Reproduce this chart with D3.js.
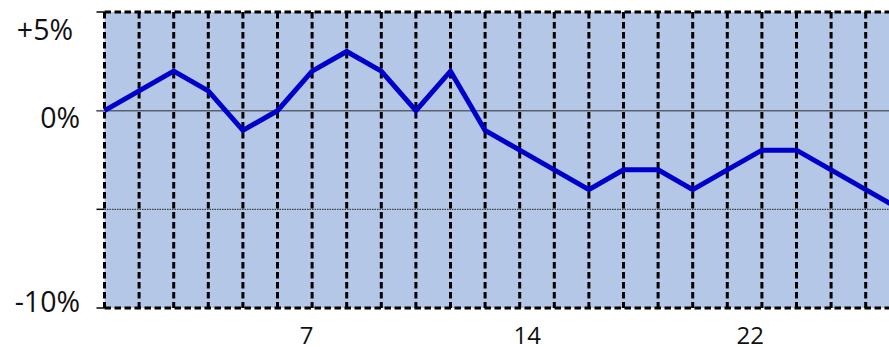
<!DOCTYPE html>
<html><head><meta charset="utf-8">
<script src="https://cdn.jsdelivr.net/npm/d3@7"></script>
<style>html,body{margin:0;padding:0;background:#fff;overflow:hidden}</style>
</head><body>
<svg id="c" width="889" height="347"></svg>
<script>
// Data
const categories = d3.range(1, 25);              // 24 points
const values = [0, 1, 2, 1, -1, 0, 2, 3, 2, 0, 2, -1, -2, -3, -4, -3, -3, -4, -3, -2, -2, -3, -4, -5];
const yTicks = [5, 0, -5, -10];
const yTickLabels = ["+5%", "0%", "", "-10%"];
const xTickLabels = ["7", "14", "22"];
const xTickPos = [6.84, 13.22, 19.66];          // category positions of the labels

(function () {
const svg = d3.select("#c");
const W = 889, H = 347;
const m = {left: 104.5, top: 12, bottom: 39};
const step = 34.6;
const plotRight = m.left + step * (categories.length - 1);

const x = d3.scaleLinear().domain([1, categories.length]).range([m.left, plotRight]);
const y = d3.scaleLinear().domain([-10, 5]).range([H - m.bottom, m.top]);

const yTop = y(5), yBot = y(-10);

// background
svg.append("rect").attr("x", m.left).attr("y", yTop)
  .attr("width", plotRight - m.left + 20).attr("height", yBot - yTop)
  .attr("fill", "#B4C7E7");

// 0% line
svg.append("line").attr("x1", m.left - 8).attr("x2", W)
  .attr("y1", y(0)).attr("y2", y(0))
  .attr("stroke", "#58606e").attr("stroke-width", 1.5);
// -5% dotted line
svg.append("line").attr("x1", m.left).attr("x2", W)
  .attr("y1", y(-5)).attr("y2", y(-5))
  .attr("stroke", "#222").attr("stroke-width", 1).attr("stroke-dasharray", "1.5,1");

// y ticks
svg.selectAll(".yt").data(yTicks).join("line")
  .attr("x1", m.left - 8).attr("x2", m.left)
  .attr("y1", d => y(d)).attr("y2", d => y(d))
  .attr("stroke", d => d === 0 ? "#58606e" : "#000").attr("stroke-width", 1.5);

// vertical dashed gridlines
svg.selectAll(".vg").data(categories).join("line")
  .attr("x1", d => x(d)).attr("x2", d => x(d))
  .attr("y1", yTop).attr("y2", yBot)
  .attr("stroke", "#000").attr("stroke-width", 3).attr("stroke-dasharray", "6.5,3.5");

// top and bottom dashed borders
[yTop, yBot].forEach(yy => {
  svg.append("line").attr("x1", m.left).attr("x2", W + 10)
    .attr("y1", yy).attr("y2", yy)
    .attr("stroke", "#000").attr("stroke-width", 3).attr("stroke-dasharray", "6.5,3.5");
});

// series line
const line = d3.line().x((d, i) => x(categories[i])).y(d => y(d));
svg.append("path").datum(values).attr("d", line)
  .attr("fill", "none").attr("stroke", "#0000CC").attr("stroke-width", 5)
  .attr("stroke-linejoin", "miter");

// y labels (clamped inside chart like the original)
svg.selectAll(".yl").data(yTicks.map((v, i) => ({v, t: yTickLabels[i]})).filter(d => d.t))
  .join("text")
  .attr("x", d => y(d.v) + 7 < yTop + 18 ? 73 : 80)
  .attr("y", d => Math.max(yTop + 18, Math.min(yBot - 6, y(d.v) + 7)))
  .attr("dy", "0.35em")
  .attr("text-anchor", "end")
  .attr("font-family", "'Open Sans', sans-serif").attr("font-size", 28.5)
  .attr("fill", "#111")
  .text(d => d.t);

// x labels
svg.selectAll(".xl").data(xTickLabels).join("text")
  .attr("x", (d, i) => x(xTickPos[i]))
  .attr("y", 344)
  .attr("text-anchor", "middle")
  .attr("font-family", "'Open Sans', sans-serif").attr("font-size", 24)
  .attr("fill", "#111")
  .text(d => d);
})();
</script>
</body></html>
